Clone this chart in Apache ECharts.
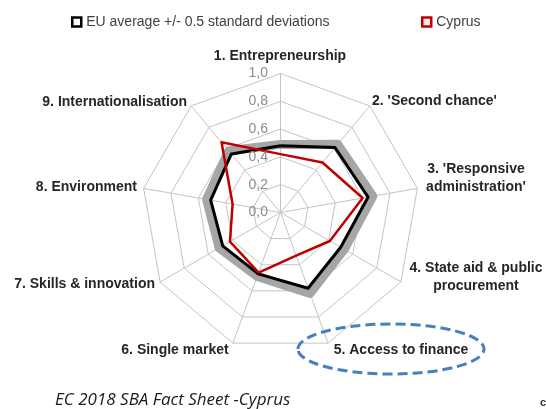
<!DOCTYPE html>
<html>
<head>
<meta charset="utf-8">
<script src="https://cdn.jsdelivr.net/npm/echarts@6/dist/echarts.min.js"></script>
<style>
  html, body { margin: 0; padding: 0; background: #fff; }
  #main { width: 546px; height: 409px; }
</style>
</head>
<body>
<div id="main"></div>
<script>
// 指标名称（顺时针）
const indicators = [
  "1. Entrepreneurship",
  "2. 'Second chance'",
  "3. 'Responsive\nadministration'",
  "4. State aid & public\nprocurement",
  "5. Access to finance",
  "6. Single market",
  "7. Skills & innovation",
  "8. Environment",
  "9. Internationalisation"
];
// EU 平均值
const euAverage = [0.48, 0.61, 0.64, 0.50, 0.58, 0.47, 0.48, 0.51, 0.55];
// +/- 0.5 标准差的灰色带（带的中线）
const euBand = [0.49, 0.64, 0.675, 0.53, 0.62, 0.49, 0.51, 0.54, 0.58];
// Cyprus
const cyprus = [0.42, 0.47, 0.60, 0.41, 0.33, 0.46, 0.42, 0.35, 0.66];
// 刻度
const ticks = [0, 0.2, 0.4, 0.6, 0.8, 1.0];

const CX = 280.5, CY = 212.5, R = 139;
const labelFont = "bold 14px 'Liberation Sans', Arial, sans-serif";
const labelColor = "#262626";

// echarts 雷达图是逆时针排列，这里把顺序翻过来变成顺时针
const order = indicators.map((_, i) => (i === 0 ? 0 : indicators.length - i));
const reorder = (arr) => order.map((i) => arr[i]);

const myChart = echarts.init(document.getElementById("main"));

// 指标标签位置（手动放置）
const namePos = [
  { x: 280, y: 56, align: "center" },
  { x: 372, y: 101, align: "left" },
  { x: 476, y: 178, align: "center" },
  { x: 476, y: 277, align: "center" },
  { x: 401, y: 350, align: "center" },
  { x: 175, y: 350, align: "center" },
  { x: 155, y: 284, align: "right" },
  { x: 137, y: 187, align: "right" },
  { x: 187, y: 102, align: "right" }
];

const graphics = [];
indicators.forEach((name, i) => {
  const p = namePos[i];
  graphics.push({
    type: "text",
    x: p.x,
    y: p.y,
    style: {
      text: name,
      font: labelFont,
      fill: labelColor,
      textAlign: p.align,
      textVerticalAlign: "middle",
      lineHeight: 18
    },
    z: 10
  });
});
// 刻度标签 (逗号小数)
ticks.forEach((v) => {
  graphics.push({
    type: "text",
    x: 268,
    y: CY - R * v,
    style: {
      text: v.toFixed(1).replace(".", ","),
      font: "14px 'Liberation Sans', Arial, sans-serif",
      fill: "#8c8c8c",
      textAlign: "right",
      textVerticalAlign: "middle"
    },
    z: 9
  });
});
// 虚线椭圆
graphics.push({
  type: "ellipse",
  shape: { cx: 391, cy: 349, rx: 93, ry: 25 },
  style: { fill: null, stroke: "#4a7ebf", lineWidth: 3, lineDash: [10, 5] },
  z: 11
});
// 页脚
graphics.push({
  type: "text",
  x: 55,
  y: 400,
  style: {
    text: "EC 2018 SBA Fact Sheet -Cyprus",
    font: "italic 17px 'Open Sans', sans-serif",
    fill: "#1a1a1a",
    textVerticalAlign: "middle"
  }
});
graphics.push({
  type: "text",
  x: 540,
  y: 403,
  style: { text: "c", font: "bold 11px 'Liberation Sans', sans-serif", fill: "#333", textVerticalAlign: "middle" }
});

const legendText = { fontSize: 14, color: "#404040", fontFamily: "'Liberation Sans', Arial, sans-serif" };

const options = {
  animation: false,
  legend: [
    {
      left: 66,
      top: 10,
      itemWidth: 9,
      itemHeight: 9,
      icon: "rect",
      textStyle: legendText,
      data: [{ name: "EU average +/- 0.5 standard deviations", itemStyle: { color: "#fff", borderColor: "#000", borderWidth: 2.5 } }]
    },
    {
      left: 416,
      top: 10,
      itemWidth: 9,
      itemHeight: 9,
      icon: "rect",
      textStyle: legendText,
      data: [{ name: "Cyprus", itemStyle: { color: "#fde9e9", borderColor: "#c00000", borderWidth: 2.5 } }]
    }
  ],
  radar: {
    center: [CX, CY],
    radius: R,
    startAngle: 90,
    shape: "polygon",
    splitNumber: 5,
    indicator: reorder(indicators).map((n) => ({ name: n, min: 0, max: 1 })),
    axisName: { show: false },
    axisLine: { lineStyle: { color: "#c4c4c4", width: 1 } },
    splitLine: { lineStyle: { color: "#c4c4c4", width: 1 } },
    splitArea: { show: false },
    axisTick: { show: false },
    axisLabel: { show: false }
  },
  series: [
    {
      type: "radar",
      symbol: "none",
      silent: true,
      data: [
        { name: "band", value: reorder(euBand), lineStyle: { color: "#a6a6a6", width: 9 } },
        { name: "EU average +/- 0.5 standard deviations", value: reorder(euAverage), lineStyle: { color: "#000", width: 3 }, itemStyle: { color: "#000" } },
        { name: "Cyprus", value: reorder(cyprus), lineStyle: { color: "#c00000", width: 2.5 }, itemStyle: { color: "#c00000" } }
      ]
    }
  ],
  graphic: graphics
};
myChart.setOption(options);
</script>
</body>
</html>
